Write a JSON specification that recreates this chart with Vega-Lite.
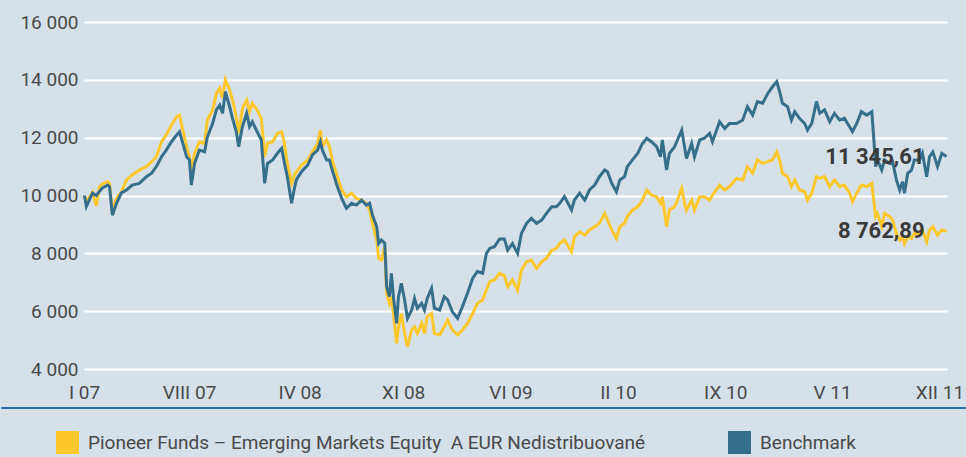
{
  "$schema": "https://vega.github.io/schema/vega-lite/v6.json",
  "width": 863,
  "height": 347,
  "autosize": {"type": "none"},
  "padding": {"left": 84, "top": 22, "right": 19, "bottom": 88},
  "background": "#d6e0e8",
  "config": {
    "view": {"stroke": null, "fill": "#d6e0e8"},
    "font": "Roboto",
    "axis": {"labelFont": "Roboto", "labelColor": "#4a4a4a", "labelFontSize": 19, "domain": false, "ticks": false, "title": null},
    "legend": {"labelFont": "Roboto", "labelFontSize": 19, "labelColor": "#4a4a4a", "labelLimit": 800}
  },
  "datasets": {
    "series": [
      {"date": "2007-01-02", "fund": 10000, "benchmark": 10000},
      {"date": "2007-01-06", "fund": 9780, "benchmark": 9620},
      {"date": "2007-01-19", "fund": 10110, "benchmark": 10080},
      {"date": "2007-01-27", "fund": 9640, "benchmark": 10000},
      {"date": "2007-02-03", "fund": 10310, "benchmark": 10150},
      {"date": "2007-02-09", "fund": 10400, "benchmark": 10260},
      {"date": "2007-02-20", "fund": 10480, "benchmark": 10360},
      {"date": "2007-02-24", "fund": 10420, "benchmark": 10300},
      {"date": "2007-03-02", "fund": 9440, "benchmark": 9320},
      {"date": "2007-03-11", "fund": 9910, "benchmark": 9740},
      {"date": "2007-03-21", "fund": 10130, "benchmark": 10090},
      {"date": "2007-04-01", "fund": 10540, "benchmark": 10190},
      {"date": "2007-04-13", "fund": 10710, "benchmark": 10360},
      {"date": "2007-04-28", "fund": 10880, "benchmark": 10420},
      {"date": "2007-05-13", "fund": 11000, "benchmark": 10650},
      {"date": "2007-05-24", "fund": 11170, "benchmark": 10770},
      {"date": "2007-06-03", "fund": 11340, "benchmark": 11000},
      {"date": "2007-06-14", "fund": 11860, "benchmark": 11340},
      {"date": "2007-06-24", "fund": 12090, "benchmark": 11570},
      {"date": "2007-07-05", "fund": 12440, "benchmark": 11860},
      {"date": "2007-07-16", "fund": 12730, "benchmark": 12090},
      {"date": "2007-07-22", "fund": 12780, "benchmark": 12200},
      {"date": "2007-07-28", "fund": 12330, "benchmark": 11860},
      {"date": "2007-08-06", "fund": 11690, "benchmark": 11340},
      {"date": "2007-08-12", "fund": 11340, "benchmark": 11230},
      {"date": "2007-08-16", "fund": 10880, "benchmark": 10360},
      {"date": "2007-08-23", "fund": 11460, "benchmark": 11120},
      {"date": "2007-09-02", "fund": 11860, "benchmark": 11570},
      {"date": "2007-09-13", "fund": 11800, "benchmark": 11510},
      {"date": "2007-09-19", "fund": 12610, "benchmark": 12030},
      {"date": "2007-09-30", "fund": 12960, "benchmark": 12490},
      {"date": "2007-10-08", "fund": 13530, "benchmark": 12960},
      {"date": "2007-10-15", "fund": 13710, "benchmark": 13130},
      {"date": "2007-10-21", "fund": 13370, "benchmark": 12840},
      {"date": "2007-10-27", "fund": 14000, "benchmark": 13590},
      {"date": "2007-11-05", "fund": 13650, "benchmark": 13070},
      {"date": "2007-11-11", "fund": 13300, "benchmark": 12670},
      {"date": "2007-11-19", "fund": 12730, "benchmark": 12210},
      {"date": "2007-11-24", "fund": 12150, "benchmark": 11690},
      {"date": "2007-12-02", "fund": 13010, "benchmark": 12380},
      {"date": "2007-12-11", "fund": 13300, "benchmark": 12840},
      {"date": "2007-12-17", "fund": 12900, "benchmark": 12380},
      {"date": "2007-12-23", "fund": 13190, "benchmark": 12550},
      {"date": "2008-01-02", "fund": 12960, "benchmark": 12210},
      {"date": "2008-01-11", "fund": 12670, "benchmark": 11920},
      {"date": "2008-01-18", "fund": 11340, "benchmark": 10420},
      {"date": "2008-01-24", "fund": 11800, "benchmark": 11110},
      {"date": "2008-02-04", "fund": 11860, "benchmark": 11230},
      {"date": "2008-02-14", "fund": 12150, "benchmark": 11460},
      {"date": "2008-02-23", "fund": 12200, "benchmark": 11630},
      {"date": "2008-02-29", "fund": 11800, "benchmark": 11110},
      {"date": "2008-03-06", "fund": 11110, "benchmark": 10650},
      {"date": "2008-03-15", "fund": 10420, "benchmark": 9730},
      {"date": "2008-03-21", "fund": 10710, "benchmark": 10250},
      {"date": "2008-03-25", "fund": 10820, "benchmark": 10540},
      {"date": "2008-04-05", "fund": 11050, "benchmark": 10820},
      {"date": "2008-04-18", "fund": 11230, "benchmark": 11050},
      {"date": "2008-04-28", "fund": 11510, "benchmark": 11400},
      {"date": "2008-05-09", "fund": 11800, "benchmark": 11570},
      {"date": "2008-05-15", "fund": 12260, "benchmark": 11860},
      {"date": "2008-05-19", "fund": 11690, "benchmark": 11570},
      {"date": "2008-05-28", "fund": 11920, "benchmark": 11230},
      {"date": "2008-06-03", "fund": 11690, "benchmark": 11230},
      {"date": "2008-06-10", "fund": 11170, "benchmark": 10820},
      {"date": "2008-06-20", "fund": 10650, "benchmark": 10300},
      {"date": "2008-06-29", "fund": 10190, "benchmark": 9900},
      {"date": "2008-07-09", "fund": 9960, "benchmark": 9560},
      {"date": "2008-07-20", "fund": 10080, "benchmark": 9730},
      {"date": "2008-07-30", "fund": 9900, "benchmark": 9670},
      {"date": "2008-08-10", "fund": 9840, "benchmark": 9840},
      {"date": "2008-08-20", "fund": 9730, "benchmark": 9670},
      {"date": "2008-08-27", "fund": 9500, "benchmark": 9730},
      {"date": "2008-09-02", "fund": 9040, "benchmark": 9320},
      {"date": "2008-09-11", "fund": 8460, "benchmark": 8920},
      {"date": "2008-09-15", "fund": 7830, "benchmark": 8340},
      {"date": "2008-09-21", "fund": 7770, "benchmark": 8460},
      {"date": "2008-09-28", "fund": 8230, "benchmark": 8350},
      {"date": "2008-10-02", "fund": 6620, "benchmark": 6840},
      {"date": "2008-10-08", "fund": 6270, "benchmark": 6500},
      {"date": "2008-10-12", "fund": 6500, "benchmark": 7310},
      {"date": "2008-10-17", "fund": 5810, "benchmark": 6390},
      {"date": "2008-10-23", "fund": 4890, "benchmark": 5580},
      {"date": "2008-10-27", "fund": 5460, "benchmark": 6500},
      {"date": "2008-11-02", "fund": 5920, "benchmark": 6960},
      {"date": "2008-11-09", "fund": 5230, "benchmark": 6390},
      {"date": "2008-11-15", "fund": 4770, "benchmark": 5750},
      {"date": "2008-11-24", "fund": 5350, "benchmark": 6040},
      {"date": "2008-11-30", "fund": 5460, "benchmark": 6440},
      {"date": "2008-12-06", "fund": 5230, "benchmark": 6100},
      {"date": "2008-12-15", "fund": 5580, "benchmark": 6270},
      {"date": "2008-12-21", "fund": 5230, "benchmark": 6040},
      {"date": "2008-12-27", "fund": 5810, "benchmark": 6450},
      {"date": "2009-01-05", "fund": 5920, "benchmark": 6790},
      {"date": "2009-01-11", "fund": 5230, "benchmark": 6100},
      {"date": "2009-01-22", "fund": 5180, "benchmark": 6040},
      {"date": "2009-02-01", "fund": 5460, "benchmark": 6500},
      {"date": "2009-02-08", "fund": 5690, "benchmark": 6390},
      {"date": "2009-02-18", "fund": 5350, "benchmark": 5980},
      {"date": "2009-03-01", "fund": 5180, "benchmark": 5750},
      {"date": "2009-03-11", "fund": 5350, "benchmark": 6150},
      {"date": "2009-03-22", "fund": 5580, "benchmark": 6620},
      {"date": "2009-04-02", "fund": 5920, "benchmark": 7140},
      {"date": "2009-04-12", "fund": 6270, "benchmark": 7370},
      {"date": "2009-04-23", "fund": 6390, "benchmark": 7310},
      {"date": "2009-05-01", "fund": 6730, "benchmark": 8000},
      {"date": "2009-05-08", "fund": 7020, "benchmark": 8170},
      {"date": "2009-05-18", "fund": 7080, "benchmark": 8230},
      {"date": "2009-05-29", "fund": 7310, "benchmark": 8500},
      {"date": "2009-06-08", "fund": 7220, "benchmark": 8500},
      {"date": "2009-06-15", "fund": 6850, "benchmark": 8110},
      {"date": "2009-06-25", "fund": 7080, "benchmark": 8340},
      {"date": "2009-07-06", "fund": 6730, "benchmark": 8000},
      {"date": "2009-07-14", "fund": 7420, "benchmark": 8690},
      {"date": "2009-07-25", "fund": 7710, "benchmark": 9040},
      {"date": "2009-08-04", "fund": 7770, "benchmark": 9210},
      {"date": "2009-08-15", "fund": 7480, "benchmark": 9040},
      {"date": "2009-08-26", "fund": 7710, "benchmark": 9150},
      {"date": "2009-09-05", "fund": 7830, "benchmark": 9380},
      {"date": "2009-09-16", "fund": 8110, "benchmark": 9610},
      {"date": "2009-09-26", "fund": 8170, "benchmark": 9610},
      {"date": "2009-10-03", "fund": 8340, "benchmark": 9730},
      {"date": "2009-10-13", "fund": 8460, "benchmark": 9960},
      {"date": "2009-10-28", "fund": 8060, "benchmark": 9500},
      {"date": "2009-11-03", "fund": 8570, "benchmark": 9840},
      {"date": "2009-11-14", "fund": 8740, "benchmark": 10080},
      {"date": "2009-11-25", "fund": 8630, "benchmark": 9840},
      {"date": "2009-12-05", "fund": 8810, "benchmark": 10190},
      {"date": "2009-12-16", "fund": 8920, "benchmark": 10360},
      {"date": "2009-12-26", "fund": 9040, "benchmark": 10650},
      {"date": "2010-01-06", "fund": 9380, "benchmark": 10880},
      {"date": "2010-01-12", "fund": 9150, "benchmark": 10820},
      {"date": "2010-01-21", "fund": 8810, "benchmark": 10420},
      {"date": "2010-01-31", "fund": 8520, "benchmark": 10130},
      {"date": "2010-02-07", "fund": 8920, "benchmark": 10540},
      {"date": "2010-02-17", "fund": 9040, "benchmark": 10650},
      {"date": "2010-02-23", "fund": 9270, "benchmark": 11000},
      {"date": "2010-03-06", "fund": 9500, "benchmark": 11230},
      {"date": "2010-03-17", "fund": 9610, "benchmark": 11460},
      {"date": "2010-03-27", "fund": 9840, "benchmark": 11800},
      {"date": "2010-04-05", "fund": 10190, "benchmark": 11980},
      {"date": "2010-04-15", "fund": 10010, "benchmark": 11860},
      {"date": "2010-04-26", "fund": 9960, "benchmark": 11690},
      {"date": "2010-05-04", "fund": 9730, "benchmark": 11340},
      {"date": "2010-05-08", "fund": 9960, "benchmark": 11920},
      {"date": "2010-05-17", "fund": 8920, "benchmark": 10880},
      {"date": "2010-05-23", "fund": 9500, "benchmark": 11460},
      {"date": "2010-06-03", "fund": 9610, "benchmark": 11690},
      {"date": "2010-06-09", "fund": 9840, "benchmark": 11920},
      {"date": "2010-06-18", "fund": 10250, "benchmark": 12260},
      {"date": "2010-06-24", "fund": 9730, "benchmark": 11690},
      {"date": "2010-06-28", "fund": 9500, "benchmark": 11280},
      {"date": "2010-07-09", "fund": 9840, "benchmark": 11800},
      {"date": "2010-07-15", "fund": 9500, "benchmark": 11340},
      {"date": "2010-07-26", "fund": 9960, "benchmark": 11920},
      {"date": "2010-08-05", "fund": 9960, "benchmark": 11980},
      {"date": "2010-08-16", "fund": 9840, "benchmark": 12150},
      {"date": "2010-08-22", "fund": 10010, "benchmark": 11860},
      {"date": "2010-09-06", "fund": 10360, "benchmark": 12550},
      {"date": "2010-09-17", "fund": 10190, "benchmark": 12320},
      {"date": "2010-09-27", "fund": 10310, "benchmark": 12490},
      {"date": "2010-10-12", "fund": 10590, "benchmark": 12490},
      {"date": "2010-10-25", "fund": 10540, "benchmark": 12610},
      {"date": "2010-11-04", "fund": 11000, "benchmark": 13070},
      {"date": "2010-11-15", "fund": 10770, "benchmark": 12780},
      {"date": "2010-11-25", "fund": 11230, "benchmark": 13250},
      {"date": "2010-12-06", "fund": 11110, "benchmark": 13190},
      {"date": "2010-12-17", "fund": 11170, "benchmark": 13530},
      {"date": "2010-12-27", "fund": 11230, "benchmark": 13760},
      {"date": "2011-01-05", "fund": 11510, "benchmark": 13940},
      {"date": "2011-01-11", "fund": 11230, "benchmark": 13590},
      {"date": "2011-01-17", "fund": 10770, "benchmark": 13190},
      {"date": "2011-01-28", "fund": 10650, "benchmark": 13070},
      {"date": "2011-02-05", "fund": 10310, "benchmark": 12610},
      {"date": "2011-02-12", "fund": 10540, "benchmark": 12900},
      {"date": "2011-02-22", "fund": 10190, "benchmark": 12670},
      {"date": "2011-03-05", "fund": 10130, "benchmark": 12490},
      {"date": "2011-03-11", "fund": 9840, "benchmark": 12260},
      {"date": "2011-03-20", "fund": 10080, "benchmark": 12490},
      {"date": "2011-03-30", "fund": 10650, "benchmark": 13250},
      {"date": "2011-04-06", "fund": 10590, "benchmark": 12840},
      {"date": "2011-04-16", "fund": 10650, "benchmark": 12960},
      {"date": "2011-04-27", "fund": 10310, "benchmark": 12550},
      {"date": "2011-05-07", "fund": 10540, "benchmark": 12840},
      {"date": "2011-05-18", "fund": 10310, "benchmark": 12610},
      {"date": "2011-05-28", "fund": 10360, "benchmark": 12670},
      {"date": "2011-06-08", "fund": 10080, "benchmark": 12380},
      {"date": "2011-06-14", "fund": 9790, "benchmark": 12210},
      {"date": "2011-06-23", "fund": 10080, "benchmark": 12490},
      {"date": "2011-07-03", "fund": 10360, "benchmark": 12900},
      {"date": "2011-07-14", "fund": 10310, "benchmark": 12780},
      {"date": "2011-07-25", "fund": 10420, "benchmark": 12900},
      {"date": "2011-07-29", "fund": 9840, "benchmark": 12000},
      {"date": "2011-08-02", "fund": 9270, "benchmark": 11000},
      {"date": "2011-08-06", "fund": 9380, "benchmark": 11230},
      {"date": "2011-08-15", "fund": 8920, "benchmark": 10880},
      {"date": "2011-08-21", "fund": 9380, "benchmark": 11230},
      {"date": "2011-09-01", "fund": 9270, "benchmark": 11110},
      {"date": "2011-09-07", "fund": 9150, "benchmark": 11170},
      {"date": "2011-09-15", "fund": 8690, "benchmark": 10540},
      {"date": "2011-09-22", "fund": 8460, "benchmark": 10190},
      {"date": "2011-09-28", "fund": 8570, "benchmark": 10480},
      {"date": "2011-10-02", "fund": 8340, "benchmark": 10080},
      {"date": "2011-10-09", "fund": 8570, "benchmark": 10770},
      {"date": "2011-10-17", "fund": 8520, "benchmark": 10880},
      {"date": "2011-10-23", "fund": 8690, "benchmark": 11230},
      {"date": "2011-11-03", "fund": 8690, "benchmark": 11230},
      {"date": "2011-11-09", "fund": 8810, "benchmark": 11460},
      {"date": "2011-11-18", "fund": 8400, "benchmark": 10650},
      {"date": "2011-11-24", "fund": 8810, "benchmark": 11340},
      {"date": "2011-12-01", "fund": 8920, "benchmark": 11510},
      {"date": "2011-12-11", "fund": 8630, "benchmark": 11000},
      {"date": "2011-12-20", "fund": 8810, "benchmark": 11460},
      {"date": "2011-12-30", "fund": 8762.89, "benchmark": 11345.61}
    ],
    "labels": [
      {"date": "2011-12-30", "value": 11345.61, "label": "11 345,61"},
      {"date": "2011-12-30", "value": 8762.89, "label": "8 762,89"}
    ]
  },
  "layer": [
    {
      "data": {"name": "series"},
      "mark": {"type": "line", "strokeWidth": 3, "clip": false},
      "encoding": {
        "x": {
          "field": "date", "type": "temporal",
          "scale": {"domain": [{"year": 2007, "month": 1, "date": 1}, {"year": 2011, "month": 12, "date": 31}]},
          "axis": {
            "grid": false, "labelPadding": 14, "labelFlush": false,
            "values": [
              {"year": 2007, "month": 1, "date": 1},
              {"year": 2007, "month": 8, "date": 11},
              {"year": 2008, "month": 4, "date": 1},
              {"year": 2008, "month": 11, "date": 6},
              {"year": 2009, "month": 6, "date": 21},
              {"year": 2010, "month": 2, "date": 3},
              {"year": 2010, "month": 9, "date": 18},
              {"year": 2011, "month": 5, "date": 2},
              {"year": 2011, "month": 12, "date": 15}
            ],
            "labelExpr": "['I','II','III','IV','V','VI','VII','VIII','IX','X','XI','XII'][month(datum.value)] + ' ' + timeFormat(datum.value, '%y')"
          }
        },
        "y": {
          "field": "fund", "type": "quantitative",
          "scale": {"domain": [4000, 16000]},
          "axis": {
            "values": [4000, 6000, 8000, 10000, 12000, 14000, 16000],
            "grid": true, "gridColor": "#ffffff", "gridWidth": 2, "gridOpacity": 1,
            "labelPadding": 6,
            "labelExpr": "replace(format(datum.value, ','), ',', ' ')"
          }
        },
        "color": {
          "datum": "Pioneer Funds – Emerging Markets Equity\u00a0 A EUR Nedistribuované",
          "type": "nominal",
          "scale": {
            "domain": ["Pioneer Funds – Emerging Markets Equity\u00a0 A EUR Nedistribuované", "Benchmark"],
            "range": ["#fec82d", "#366f8b"]
          },
          "legend": {
            "title": null, "orient": "none", "direction": "horizontal",
            "legendX": -28, "legendY": 409,
            "symbolType": "square", "symbolSize": 529, "symbolStrokeWidth": 0,
            "labelOffset": 9, "columnPadding": 82,
            "encode": {"symbols": {"update": {"fill": {"scale": "color", "field": "value"}, "fillOpacity": {"value": 1}, "strokeWidth": {"value": 0}}}}
          }
        }
      }
    },
    {
      "data": {"name": "series"},
      "mark": {"type": "line", "strokeWidth": 3, "clip": false},
      "encoding": {
        "x": {"field": "date", "type": "temporal"},
        "y": {"field": "benchmark", "type": "quantitative"},
        "color": {"datum": "Benchmark", "type": "nominal"}
      }
    },
    {
      "data": {"name": "labels"},
      "mark": {"type": "text", "align": "right", "baseline": "middle", "dx": -22, "fontSize": 22, "fontWeight": "bold", "font": "Roboto", "color": "#3a3a3a"},
      "encoding": {
        "x": {"field": "date", "type": "temporal"},
        "y": {"field": "value", "type": "quantitative"},
        "text": {"field": "label", "type": "nominal"}
      }
    },
    {
      "data": {"values": [{}]},
      "mark": {"type": "rule", "color": "#2a6cae", "strokeWidth": 2, "clip": false},
      "encoding": {
        "x": {"datum": {"year": 2006, "month": 7, "date": 10}, "type": "temporal"},
        "x2": {"datum": {"year": 2012, "month": 2, "date": 10}},
        "y": {"datum": 2650, "type": "quantitative"}
      }
    }
  ]
}
